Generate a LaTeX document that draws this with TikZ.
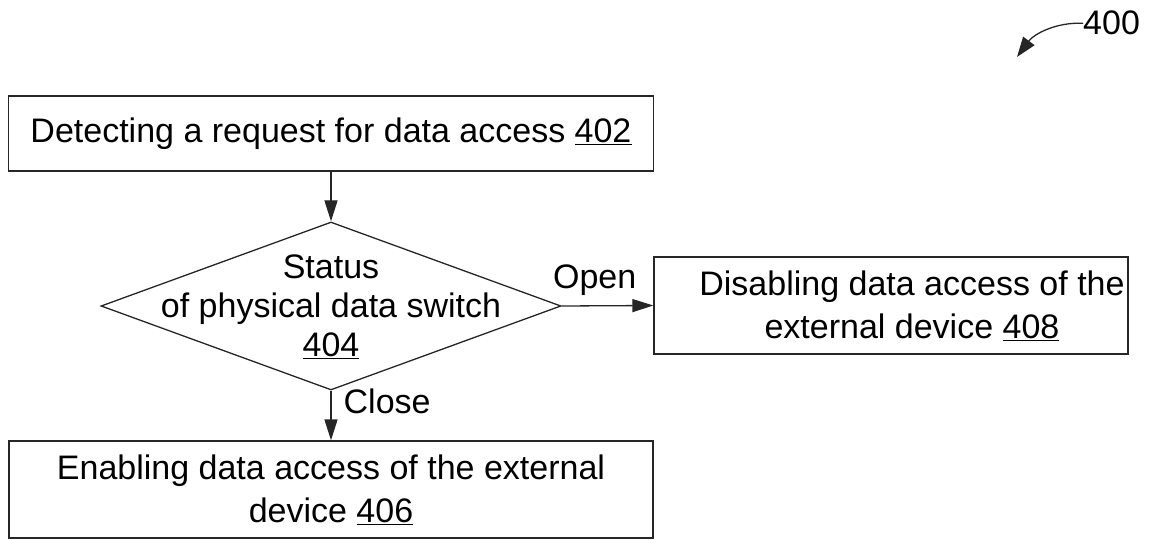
\documentclass[tikz,border=0pt]{standalone}
\usepackage{fontspec}
\setmainfont{Liberation Sans}
\usetikzlibrary{arrows.meta,shapes.geometric}

% reference numerals are printed underlined
\newcommand{\refnum}[1]{\underline{#1}}

\tikzset{
  txt/.style={font=\fontsize{34}{43}\selectfont, text=black},
  dtxt/.style={font=\fontsize{34}{39}\selectfont, text=black},
  stepbox/.style={draw=black!85, line width=1.3pt, rectangle, inner sep=0pt},
  decision/.style={draw=black!85, line width=1.3pt, diamond, inner sep=0pt,
                   minimum width=460pt, minimum height=168pt},
  flow/.style={draw=black!85, line width=1.3pt,
               -{Triangle[length=21pt,width=13pt]}},
  tag/.style={txt, inner sep=0pt}
}

\begin{document}
\begin{tikzpicture}[x=1pt,y=-1pt]
  \useasboundingbox (0,0) rectangle (1149,540);

  % process step 402
  \node[stepbox, txt, minimum width=645pt, minimum height=75pt]
    (b402) at (331,133.5) {Detecting a request for data access \refnum{402}};

  % decision 404
  \node[decision] (d404) at (331,306) {};
  \node[dtxt, align=center, inner sep=0pt] (t404) at (331,307)
    {Status\\of physical data switch\\\refnum{404}};

  % process step 408 (text sits right of the box centre)
  \node[stepbox, minimum width=474pt, minimum height=97pt]
    (b408) at (891,305.5) {};
  \node[txt, align=center, inner sep=0pt] (t408) at (912,306)
    {Disabling data access of the\\external device \refnum{408}};

  % process step 406
  \node[stepbox, txt, align=center, minimum width=644pt, minimum height=97pt]
    (b406) at (331,489.5)
    {Enabling data access of the external\\device \refnum{406}};

  % connectors
  \draw[flow] (b402.south) -- (d404.north);
  \draw[flow] (d404.east) -- (b408.west)
    node[tag, pos=0.36, anchor=base, yshift=17pt] (lopen) {Open};
  \draw[flow] (d404.south) -- (b406.north)
    node[tag, pos=0.46, anchor=base west, xshift=12pt] (lclose) {Close};

  % figure numeral with its curved pointer
  \node[tag, anchor=base west] (n400) at (1083,35) {400};
  \coordinate (p400) at (1017,57);
  \draw[draw=black!85, line width=1.3pt, -{Triangle[length=20pt,width=14pt]}]
    (n400.west) .. controls (1056,22) and (1034,34) .. (p400);
\end{tikzpicture}
\end{document}
